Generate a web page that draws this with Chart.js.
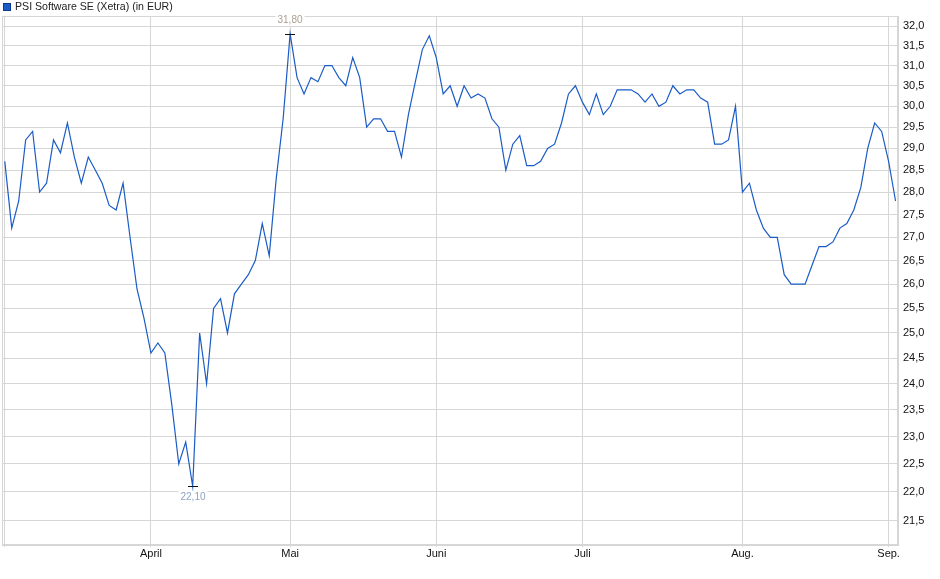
<!DOCTYPE html>
<html>
<head>
<meta charset="utf-8">
<title>PSI Software SE (Xetra)</title>
<script src="https://cdn.jsdelivr.net/npm/chart.js@4.4.1/dist/chart.umd.min.js"></script>
<style>
  html, body { margin: 0; padding: 0; background: #fff; }
  #wrap { width: 940px; height: 579px; }
</style>
</head>
<body>
<div id="wrap"><canvas id="kurs" width="940" height="579"></canvas></div>
<script>
// Handelstage Xetra, 03.03.2025 - 02.09.2025
var tradingDays = [
  "2025-03-03","2025-03-04","2025-03-05","2025-03-06","2025-03-07","2025-03-10","2025-03-11","2025-03-12","2025-03-13","2025-03-14",
  "2025-03-17","2025-03-18","2025-03-19","2025-03-20","2025-03-21","2025-03-24","2025-03-25","2025-03-26","2025-03-27","2025-03-28","2025-03-31",
  "2025-04-01","2025-04-02","2025-04-03","2025-04-04","2025-04-07","2025-04-08","2025-04-09","2025-04-10","2025-04-11","2025-04-14",
  "2025-04-15","2025-04-16","2025-04-17","2025-04-22","2025-04-23","2025-04-24","2025-04-25","2025-04-28","2025-04-29","2025-04-30",
  "2025-05-02","2025-05-05","2025-05-06","2025-05-07","2025-05-08","2025-05-09","2025-05-12","2025-05-13","2025-05-14","2025-05-15",
  "2025-05-16","2025-05-19","2025-05-20","2025-05-21","2025-05-22","2025-05-23","2025-05-26","2025-05-27","2025-05-28","2025-05-29","2025-05-30",
  "2025-06-02","2025-06-03","2025-06-04","2025-06-05","2025-06-06","2025-06-09","2025-06-10","2025-06-11","2025-06-12","2025-06-13",
  "2025-06-16","2025-06-17","2025-06-18","2025-06-19","2025-06-20","2025-06-23","2025-06-24","2025-06-25","2025-06-26","2025-06-27","2025-06-30",
  "2025-07-01","2025-07-02","2025-07-03","2025-07-04","2025-07-07","2025-07-08","2025-07-09","2025-07-10","2025-07-11","2025-07-14",
  "2025-07-15","2025-07-16","2025-07-17","2025-07-18","2025-07-21","2025-07-22","2025-07-23","2025-07-24","2025-07-25","2025-07-28",
  "2025-07-29","2025-07-30","2025-07-31",
  "2025-08-01","2025-08-04","2025-08-05","2025-08-06","2025-08-07","2025-08-08","2025-08-11","2025-08-12","2025-08-13","2025-08-14",
  "2025-08-15","2025-08-18","2025-08-19","2025-08-20","2025-08-21","2025-08-22","2025-08-25","2025-08-26","2025-08-27","2025-08-28","2025-08-29",
  "2025-09-01","2025-09-02"
];

// Schlusskurse in EUR
var closePrices = [
  28.7, 27.2, 27.8, 29.2, 29.4, 28.0, 28.2, 29.2, 28.9, 29.6,
  28.8, 28.2, 28.8, 28.5, 28.2, 27.7, 27.6, 28.2, 27.0, 25.9, 25.3,
  24.6, 24.8, 24.6, 23.6, 22.5, 22.9, 22.1, 25.0, 24.0, 25.5,
  25.7, 25.0, 25.8, 26.0, 26.2, 26.5, 27.3, 26.6, 28.3, 29.7,
  31.8, 30.7, 30.3, 30.7, 30.6, 31.0, 31.0, 30.7, 30.5, 31.2,
  30.7, 29.5, 29.7, 29.7, 29.4, 29.4, 28.8, 29.8, 30.6, 31.4, 31.75,
  31.2, 30.3, 30.5, 30.0, 30.5, 30.2, 30.3, 30.2, 29.7, 29.5,
  28.5, 29.1, 29.3, 28.6, 28.6, 28.7, 29.0, 29.1, 29.6, 30.3, 30.5,
  30.1, 29.8, 30.3, 29.8, 30.0, 30.4, 30.4, 30.4, 30.3, 30.1,
  30.3, 30.0, 30.1, 30.5, 30.3, 30.4, 30.4, 30.2, 30.1, 29.1,
  29.1, 29.2, 30.0,
  28.0, 28.2, 27.6, 27.2, 27.0, 27.0, 26.2, 26.0, 26.0, 26.0,
  26.4, 26.8, 26.8, 26.9, 27.2, 27.3, 27.6, 28.1, 29.0, 29.6, 29.4,
  28.7, 27.8
];

var monthStarts = ["2025-03-03","2025-04-01","2025-05-02","2025-06-02","2025-07-01","2025-08-01","2025-09-01"];
var monthNames  = ["", "April", "Mai", "Juni", "Juli", "Aug.", "Sep."];
var yTicks = [21.5, 22.0, 22.5, 23.0, 23.5, 24.0, 24.5, 25.0, 25.5, 26.0, 26.5, 27.0,
              27.5, 28.0, 28.5, 29.0, 29.5, 30.0, 30.5, 31.0, 31.5, 32.0];
var seriesName = "PSI Software SE (Xetra) (in EUR)";

var FONT = "'Liberation Sans', Arial, sans-serif";
var GRID = "#d6d6d6";
var LINE = "#1a5cc6";

function komma(v, d){
    return v.toFixed(d).replace(".", ",");
}

var monthIdx = monthStarts.map(function(d){ return tradingDays.indexOf(d); });
var points = closePrices.map(function(v, i){ return {x: i, y: v}; });

// Rahmen, Legende und Hoch/Tief-Markierung
var extras = {
    id: "extras",
    afterDraw: function(chart){
        var ctx = chart.ctx, a = chart.chartArea;
        var xs = chart.scales.x, ys = chart.scales.y;
        ctx.save();
        ctx.strokeStyle = GRID;
        ctx.lineWidth = 1;
        ctx.strokeRect(Math.round(a.left) + 0.5, Math.round(a.top) + 0.5,
                       Math.round(a.right - a.left) - 1, Math.round(a.bottom - a.top) - 1);

        // Legende
        ctx.fillStyle = LINE;
        ctx.fillRect(3, 3, 8, 8);
        ctx.strokeStyle = "#0d3b8a";
        ctx.strokeRect(3.5, 3.5, 7, 7);
        ctx.fillStyle = "#222";
        ctx.font = "10.6px " + FONT;
        ctx.textAlign = "left";
        ctx.textBaseline = "middle";
        ctx.fillText(seriesName, 15, 7.5);

        // Hoch und Tief
        var hi = 0, lo = 0;
        for (var i = 1; i < closePrices.length; i++){
            if (closePrices[i] > closePrices[hi]) hi = i;
            if (closePrices[i] < closePrices[lo]) lo = i;
        }
        var marks = [
            {i: hi, dy: -14, color: "#ad9f90"},
            {i: lo, dy: 11, color: "#8ea4c4"}
        ];
        ctx.font = "10px " + FONT;
        ctx.textAlign = "center";
        marks.forEach(function(m){
            var px = Math.round(xs.getPixelForValue(m.i));
            var py = Math.round(ys.getPixelForValue(closePrices[m.i]));
            var txt = komma(closePrices[m.i], 2);
            var w = ctx.measureText(txt).width;
            ctx.fillStyle = "#fff";
            ctx.fillRect(px - w / 2 - 2, py + m.dy - 6, w + 4, 12);
            ctx.fillStyle = m.color;
            ctx.fillText(txt, px, py + m.dy);
            ctx.strokeStyle = "#111";
            ctx.beginPath();
            ctx.moveTo(px - 5, py + 0.5);
            ctx.lineTo(px + 5, py + 0.5);
            ctx.stroke();
        });
        ctx.restore();
    }
};

new Chart(document.getElementById("kurs"), {
    type: "line",
    data: {
        datasets: [{
            label: seriesName,
            data: points,
            borderColor: LINE,
            backgroundColor: LINE,
            borderWidth: 1.2,
            pointRadius: 0,
            tension: 0,
            fill: false
        }]
    },
    options: {
        responsive: false,
        animation: false,
        layout: { padding: { left: 2, top: 16, right: 0, bottom: 0 } },
        plugins: {
            legend: { display: false },
            tooltip: { enabled: false }
        },
        scales: {
            x: {
                type: "linear",
                min: -0.4,
                max: 128.35,
                afterBuildTicks: function(scale){
                    scale.ticks = monthIdx.map(function(v){ return {value: v}; });
                },
                afterFit: function(scale){ scale.height = 34; },
                grid: { color: GRID, lineWidth: 1, tickLength: 2 },
                border: { color: GRID },
                ticks: {
                    autoSkip: false,
                    maxRotation: 0,
                    padding: 0,
                    color: "#111",
                    font: { family: FONT, size: 11 },
                    callback: function(value){
                        var k = monthIdx.indexOf(value);
                        return k >= 0 ? monthNames[k] : "";
                    }
                }
            },
            y: {
                type: "logarithmic",
                position: "right",
                min: 21.08,
                max: 32.26,
                afterBuildTicks: function(scale){
                    scale.ticks = yTicks.map(function(v){ return {value: v}; });
                },
                afterFit: function(scale){ scale.width = 42; },
                grid: { color: GRID, lineWidth: 1, tickLength: 0 },
                border: { color: GRID },
                ticks: {
                    padding: 5,
                    color: "#111",
                    font: { family: FONT, size: 11 },
                    callback: function(value){ return komma(value, 1); }
                }
            }
        }
    },
    plugins: [extras]
});
</script>
</body>
</html>
